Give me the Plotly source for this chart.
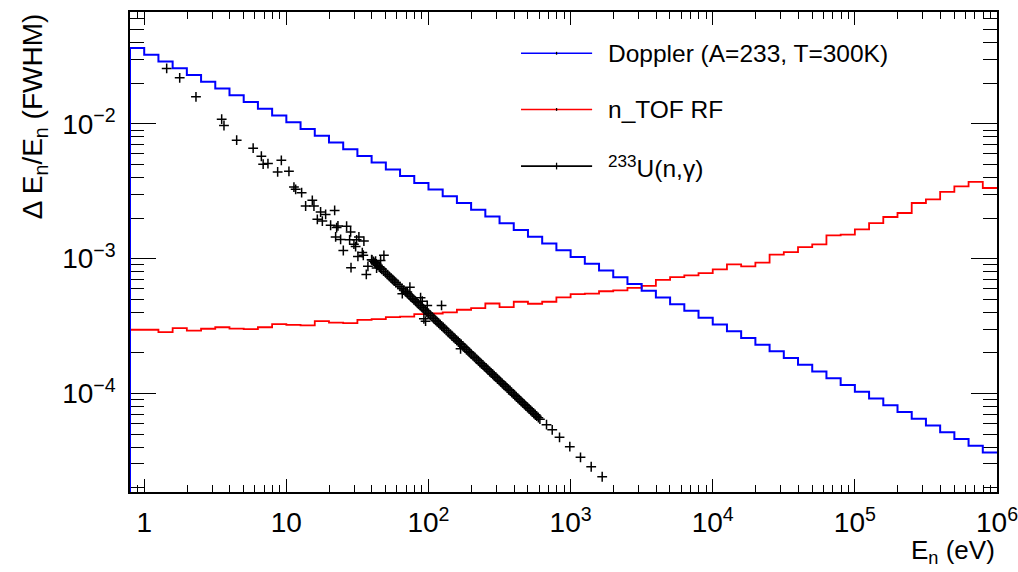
import plotly.graph_objects as go

# ---------------- data ----------------
# histogram bin edges (10 bins per decade), eV
BIN_EDGES = [0.7943,
             1, 1.259, 1.585, 1.995, 2.512, 3.162, 3.981, 5.012, 6.310, 7.943,
             10, 12.59, 15.85, 19.95, 25.12, 31.62, 39.81, 50.12, 63.10, 79.43,
             100, 125.9, 158.5, 199.5, 251.2, 316.2, 398.1, 501.2, 631.0, 794.3,
             1000, 1259, 1585, 1995, 2512, 3162, 3981, 5012, 6310, 7943,
             1e4, 12589, 15849, 19953, 25119, 31623, 39811, 50119, 63096, 79433,
             1e5, 125893, 158489, 199526, 251189, 316228, 398107, 501187, 630957, 794328,
             1e6]

DOPPLER = [0.0365, 0.03253, 0.02899, 0.02584, 0.02303, 0.02053, 0.01829, 0.01630, 0.01453, 0.01295,
           0.01154, 0.01029, 0.00917, 0.00817, 0.00728, 0.00649, 0.00578, 0.00516, 0.00459, 0.00410,
           0.00365, 0.003253, 0.002899, 0.002584, 0.002303, 0.002053, 0.001829, 0.001630, 0.001453, 0.001295,
           0.001154, 0.001029, 0.000917, 0.000817, 0.000728, 0.000649, 0.000578, 0.000516, 0.000459, 0.000410,
           0.000365,
           3.253e-4, 2.899e-4, 2.584e-4, 2.303e-4, 2.053e-4, 1.829e-4, 1.630e-4, 1.453e-4, 1.295e-4,
           1.154e-4, 1.029e-4, 9.17e-5, 8.17e-5, 7.28e-5, 6.49e-5, 5.78e-5, 5.16e-5, 4.59e-5, 4.10e-5,
           3.65e-5]

NTOF_RF = [2.97e-4, 2.97e-4, 2.85e-4, 3.05e-4, 2.93e-4, 3.02e-4, 3.10e-4, 3.03e-4, 3.00e-4, 3.10e-4,
           3.27e-4, 3.23e-4, 3.20e-4, 3.44e-4, 3.35e-4, 3.32e-4, 3.52e-4, 3.56e-4, 3.68e-4, 3.71e-4,
           3.88e-4, 3.92e-4, 3.99e-4, 4.18e-4, 4.30e-4, 4.65e-4, 4.37e-4, 4.79e-4, 4.63e-4, 4.79e-4,
           5.16e-4, 5.46e-4, 5.50e-4, 5.73e-4, 5.81e-4, 6.07e-4, 6.28e-4, 6.96e-4, 7.30e-4, 7.51e-4,
           7.82e-4, 8.33e-4, 9.07e-4, 8.77e-4, 9.34e-4, 1.071e-3, 1.119e-3, 1.219e-3, 1.277e-3, 1.489e-3,
           1.507e-3, 1.651e-3, 1.838e-3, 2.037e-3, 2.182e-3, 2.588e-3, 2.758e-3, 3.125e-3, 3.444e-3, 3.708e-3,
           3.345e-3]

# 233U(n,g) resonances: isolated points
U_SPARSE_E = [1.439, 1.777, 2.313, 3.508, 3.641, 4.472, 5.841, 6.672, 6.868, 7.424,
              9.222, 8.686, 10.43, 11.31, 11.63, 12.81, 15.23, 13.67, 15.64, 17.42,
              18.90, 21.87, 16.52, 17.92, 20.49, 23.07, 22.59, 26.55, 22.22, 24.09,
              28.33, 27.87, 31.22, 32.40, 35.13, 29.89, 30.72, 25.17, 31.88, 34.23,
              34.79, 37.49, 28.51, 36.53, 39.80, 42.46, 46.04, 48.57, 43.15,
              73.99, 70.94, 65.44, 88.0, 90.45, 98.07, 123.6, 92.82, 95.41, 168.2,
              676.9, 742.4, 835.6, 987.2, 1174, 1396, 1668]
U_SPARSE_R = [0.02580, 0.02197, 0.01587, 0.01084, 0.00973, 0.00757, 0.00660, 0.00575, 0.00502, 0.00508,
              0.00537, 0.00440, 0.00445, 0.00340, 0.00327, 0.00309, 0.00271, 0.00246, 0.00246, 0.00222,
              0.00213, 0.00228, 0.00196, 0.00190, 0.00177, 0.00175, 0.00170, 0.00174, 0.00145, 0.00139,
              0.00158, 0.00138, 0.00138, 0.00145, 0.00135, 0.00128, 0.00123, 0.00115, 0.00104, 0.00111,
              0.00106, 8.77e-4, 8.57e-4, 7.64e-4, 9.83e-4, 9.60e-4, 9.71e-4, 1.058e-3, 8.51e-4,
              6.15e-4, 5.65e-4, 5.50e-4, 5.13e-4, 4.84e-4, 4.50e-4, 4.50e-4, 3.58e-4, 3.44e-4, 2.145e-4,
              5.87e-5, 5.37e-5, 4.73e-5, 4.03e-5, 3.36e-5, 2.86e-5, 2.41e-5]

# 233U(n,g) resonances: dense band
U_BAND_E = [40, 41, 42, 43, 44, 45, 46, 47, 48.5, 50, 51.5, 53, 54.5, 56, 57.5, 59, 61, 63, 65, 67,
            69, 71, 73, 75, 77, 79, 81, 83, 85, 87.5, 90, 92.5, 95, 97.5, 100, 103, 106, 109, 112, 115,
            118, 121, 124, 127, 130, 134, 138, 142, 146, 150, 154, 158, 162, 166, 170, 175, 180, 185, 190, 195,
            200, 206, 212, 218, 224, 230, 236, 242, 248, 255, 262, 269, 276, 283, 290, 298, 306, 314, 322, 330,
            339, 348, 357, 366, 375, 385, 395, 405, 415, 426, 437, 448, 460, 472, 484, 497, 510, 523, 536, 550,
            564, 578, 593, 608]
U_BAND_R = [9.80e-4, 9.56e-4, 9.33e-4, 9.12e-4, 8.91e-4, 8.71e-4, 8.52e-4, 8.34e-4, 8.08e-4, 7.84e-4,
            7.61e-4, 7.40e-4, 7.19e-4, 7.00e-4, 6.82e-4, 6.64e-4, 6.43e-4, 6.22e-4, 6.03e-4, 5.85e-4,
            5.68e-4, 5.52e-4, 5.37e-4, 5.23e-4, 5.09e-4, 4.96e-4, 4.84e-4, 4.72e-4, 4.61e-4, 4.48e-4,
            4.36e-4, 4.24e-4, 4.13e-4, 4.02e-4, 3.92e-4, 3.81e-4, 3.70e-4, 3.60e-4, 3.50e-4, 3.41e-4,
            3.32e-4, 3.24e-4, 3.16e-4, 3.09e-4, 3.02e-4, 2.93e-4, 2.84e-4, 2.76e-4, 2.68e-4, 2.61e-4,
            2.55e-4, 2.48e-4, 2.42e-4, 2.36e-4, 2.31e-4, 2.24e-4, 2.18e-4, 2.12e-4, 2.06e-4, 2.01e-4,
            1.96e-4, 1.90e-4, 1.85e-4, 1.80e-4, 1.75e-4, 1.70e-4, 1.66e-4, 1.62e-4, 1.58e-4, 1.54e-4,
            1.50e-4, 1.46e-4, 1.42e-4, 1.39e-4, 1.35e-4, 1.32e-4, 1.28e-4, 1.25e-4, 1.22e-4, 1.19e-4,
            1.16e-4, 1.13e-4, 1.10e-4, 1.07e-4, 1.05e-4, 1.02e-4, 9.92e-5, 9.68e-5, 9.45e-5, 9.20e-5,
            8.97e-5, 8.75e-5, 8.52e-5, 8.31e-5, 8.10e-5, 7.89e-5, 7.69e-5, 7.50e-5, 7.31e-5, 7.13e-5,
            6.95e-5, 6.78e-5, 6.61e-5, 6.45e-5]

X_TICKS = [1, 10, 100, 1000, 1e4, 1e5, 1e6]
X_TICKTEXT = ["1", "10", "10<sup>2</sup>", "10<sup>3</sup>", "10<sup>4</sup>", "10<sup>5</sup>", "10<sup>6</sup>"]
Y_TICKS = [1e-4, 1e-3, 1e-2]
Y_TICKTEXT = ["10<sup>\u22124</sup>", "10<sup>\u22123</sup>", "10<sup>\u22122</sup>"]

LEGEND_LABELS = ["Doppler (A=233, T=300K)", "n_TOF RF", "<sup>233</sup>U(n,\u03b3)"]
LEGEND_COLORS = ["#0000ff", "#ff0000", "#000000"]

FONT = "Liberation Sans, Arial, Helvetica, sans-serif"

# ---------------- figure ----------------
fig = go.Figure()

# n_TOF RF histogram
fig.add_trace(go.Scatter(
    x=BIN_EDGES, y=NTOF_RF + [NTOF_RF[-1]],
    mode="lines", line=dict(color="#ff0000", width=1.8, shape="hv"),
    showlegend=False, hoverinfo="skip"))

# Doppler histogram (with the leading vertical edge ROOT draws)
fig.add_trace(go.Scatter(
    x=[BIN_EDGES[0]] + BIN_EDGES, y=[1e-7] + DOPPLER + [DOPPLER[-1]],
    mode="lines", line=dict(color="#0000ff", width=2, shape="hv"),
    showlegend=False, hoverinfo="skip"))

# 233U(n,g) points
fig.add_trace(go.Scatter(
    x=U_BAND_E + U_SPARSE_E, y=U_BAND_R + U_SPARSE_R,
    mode="markers",
    marker=dict(symbol="cross-thin", size=7, color="black",
                line=dict(color="black", width=1.5)),
    showlegend=False))

x_minor = [0.8, 0.9] + [m * 10 ** d for d in range(0, 6) for m in range(2, 10)]
y_minor = [m * 10 ** d for d in range(-5, -1) for m in range(2, 10)]

fig.update_xaxes(
    type="log", range=[-0.1, 6], automargin=False, ticklabeloverflow="allow",
    showline=True, linecolor="black", linewidth=1.5, mirror="ticks",
    ticks="inside", ticklen=13, tickwidth=1.4, tickcolor="black",
    tickmode="array", tickvals=X_TICKS, ticktext=X_TICKTEXT,
    minor=dict(ticks="inside", ticklen=7, tickwidth=1.4, tickcolor="black",
               tickmode="array", tickvals=x_minor, showgrid=False),
    showgrid=False, zeroline=False, layer="below traces",
    tickfont=dict(family=FONT, size=28, color="black"),
    ticklabelstandoff=5,
)
fig.update_yaxes(
    type="log", range=[-4.731, -1.17], automargin=False, ticklabeloverflow="allow",
    showline=True, linecolor="black", linewidth=1.5, mirror="ticks",
    ticks="inside", ticklen=26, tickwidth=1.4, tickcolor="black",
    tickmode="array", tickvals=Y_TICKS, ticktext=Y_TICKTEXT,
    minor=dict(ticks="inside", ticklen=14, tickwidth=1.4, tickcolor="black",
               tickmode="array", tickvals=y_minor, showgrid=False),
    showgrid=False, zeroline=False, layer="below traces",
    tickfont=dict(family=FONT, size=28, color="black"),
    ticklabelstandoff=7,
)

# manual ROOT-style legend
shapes = []
annotations = []
leg_y = [0.914, 0.797, 0.679]
for lab, col, yy in zip(LEGEND_LABELS, LEGEND_COLORS, leg_y):
    shapes.append(dict(type="line", xref="paper", yref="paper",
                       x0=0.451, x1=0.533, y0=yy, y1=yy,
                       line=dict(color=col, width=1.6)))
    annotations.append(dict(xref="paper", yref="paper", x=0.549, y=yy,
                            xanchor="left", yanchor="middle", text=lab, showarrow=False,
                            font=dict(family=FONT, size=24.5, color="black")))
# small marker tick in the middle of each legend sample
for yy, h in zip(leg_y, [0.003, 0.003, 0.007]):
    shapes.append(dict(type="line", xref="paper", yref="paper",
                       x0=0.492, x1=0.492, y0=yy - h, y1=yy + h,
                       line=dict(color="black", width=1.3)))

# axis titles
annotations.append(dict(xref="paper", yref="paper", x=1.0, y=-0.162,
                        xanchor="right", yanchor="bottom",
                        text="E<sub>n</sub> (eV)", showarrow=False,
                        font=dict(family=FONT, size=26, color="black")))
annotations.append(dict(xref="paper", yref="paper", x=-0.11, y=1.0,
                        xanchor="center", yanchor="top", textangle=-90,
                        text="\u0394 E<sub>n</sub>/E<sub>n</sub> (FWHM)", showarrow=False,
                        font=dict(family=FONT, size=28, color="black")))

fig.update_layout(
    width=1018, height=572,
    margin=dict(l=130, r=21, t=12, b=80),
    paper_bgcolor="white", plot_bgcolor="white",
    font=dict(family=FONT, color="black"),
    shapes=shapes, annotations=annotations,
    showlegend=False,
)

fig.write_html("out.html")
